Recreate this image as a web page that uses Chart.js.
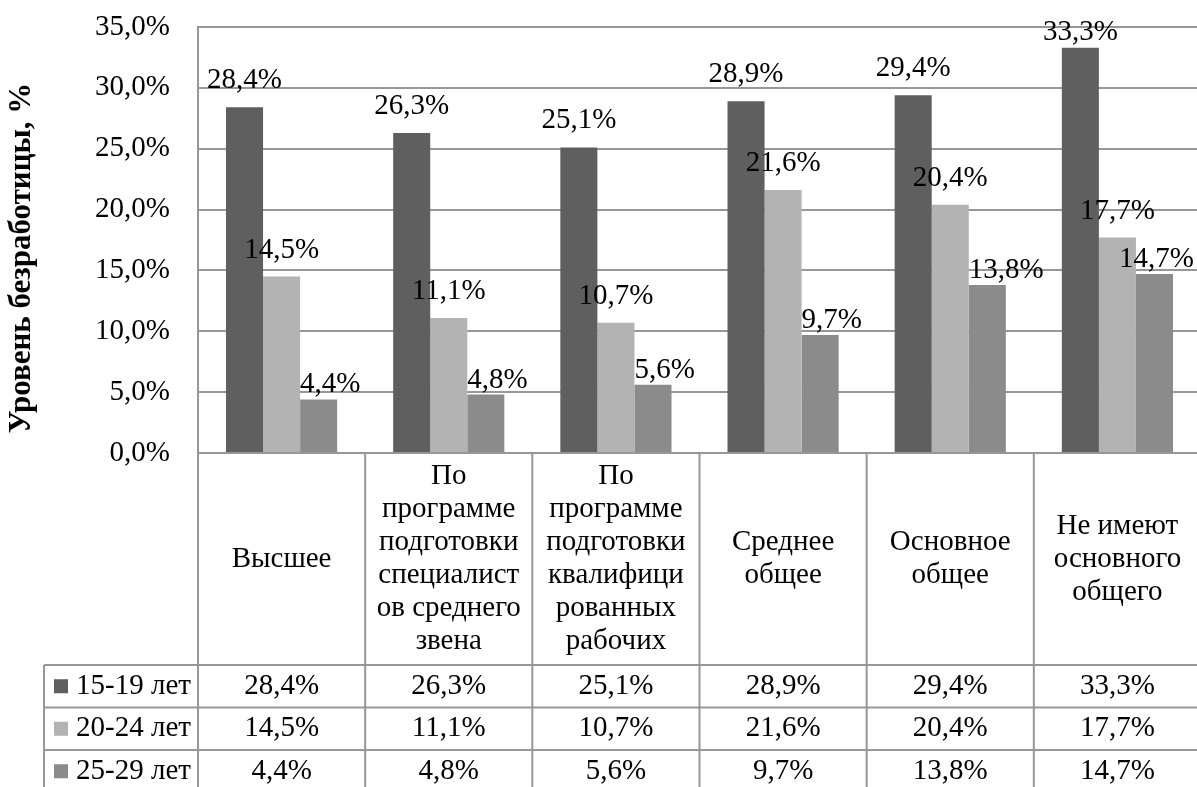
<!DOCTYPE html>
<html lang="ru">
<head>
<meta charset="utf-8">
<script src="https://cdn.jsdelivr.net/npm/chart.js@4"></script>
<style>
  html, body { margin: 0; padding: 0; background: #fff; overflow: hidden; }
  #wrap { width: 1201px; height: 787px; }
</style>
</head>
<body>
<div id="wrap"><canvas id="eduChart" width="1201" height="787"></canvas></div>
<script>
// Уровень безработицы молодёжи по уровню образования
const categories = [
  ["Высшее"],
  ["По", "программе", "подготовки", "специалист", "ов среднего", "звена"],
  ["По", "программе", "подготовки", "квалифици", "рованных", "рабочих"],
  ["Среднее", "общее"],
  ["Основное", "общее"],
  ["Не имеют", "основного", "общего"]
];
const ageGroups = ["15-19 лет", "20-24 лет", "25-29 лет"];
const age15to19 = [28.4, 26.3, 25.1, 28.9, 29.4, 33.3];
const age20to24 = [14.5, 11.1, 10.7, 21.6, 20.4, 17.7];
const age25to29 = [4.4, 4.8, 5.6, 9.7, 13.8, 14.7];
const yTicks = [0, 5, 10, 15, 20, 25, 30, 35];

const colors = ["#5f5f5f", "#b3b3b3", "#8b8b8b"];
const lineColor = "#979797";
const FONT = "'Liberation Serif', 'Times New Roman', serif";
const FS = 29;

const fmt = v => v.toFixed(1).replace(".", ",") + "%";

// подписи значений над столбцами
const valueLabels = {
  id: "valueLabels",
  afterDatasetsDraw(chart) {
    const ctx = chart.ctx;
    ctx.save();
    ctx.font = FS + "px " + FONT;
    ctx.fillStyle = "#000";
    ctx.textAlign = "left";
    ctx.textBaseline = "alphabetic";
    chart.data.datasets.forEach((ds, di) => {
      const meta = chart.getDatasetMeta(di);
      meta.data.forEach((bar, i) => {
        const txt = fmt(ds.data[i]);
        const w = ctx.measureText(txt).width;
        let x, gap;
        if (di === 2) { x = bar.x - bar.width / 2; gap = 7; }
        else { x = bar.x - w / 2; gap = 19; }
        x = Math.min(x, 1194 - w);
        const y = Math.max(bar.y - gap, 40);
        ctx.fillText(txt, x, y);
      });
    });
    ctx.restore();
  }
};

// таблица данных под осью и подпись оси Y
const dataTable = {
  id: "dataTable",
  afterDraw(chart) {
    const ctx = chart.ctx;
    const a = chart.chartArea;
    const n = categories.length;
    const cw = (a.right - a.left) / n;
    const bottom = chart.height;
    const tableTop = a.bottom + 212;
    const rowH = 42.5;
    const legendLeft = 44;

    ctx.save();
    ctx.strokeStyle = lineColor;
    ctx.lineWidth = 2;
    ctx.beginPath();
    ctx.moveTo(a.left, a.bottom);
    ctx.lineTo(a.right, a.bottom);
    for (let i = 0; i <= n; i++) {
      const x = a.left + i * cw;
      ctx.moveTo(x, a.bottom);
      ctx.lineTo(x, bottom);
    }
    for (let r = 0; r < 3; r++) {
      const y = tableTop + r * rowH;
      ctx.moveTo(legendLeft, y);
      ctx.lineTo(a.right, y);
    }
    ctx.moveTo(legendLeft, tableTop);
    ctx.lineTo(legendLeft, bottom);
    ctx.stroke();

    ctx.fillStyle = "#000";
    ctx.font = FS + "px " + FONT;
    ctx.textAlign = "center";
    ctx.textBaseline = "middle";

    // названия категорий
    const lh = 33;
    const mid = a.bottom + 106;
    categories.forEach((lines, i) => {
      const cx = a.left + (i + 0.5) * cw;
      const first = Math.max(a.bottom + 15, mid - (lines.length - 1) / 2 * lh);
      lines.forEach((t, k) => ctx.fillText(t, cx, first + k * lh));
    });

    // строки значений
    const series = [age15to19, age20to24, age25to29];
    series.forEach((vals, r) => {
      const cy = tableTop + r * rowH + rowH / 2;
      vals.forEach((v, i) => {
        ctx.fillText(fmt(v), a.left + (i + 0.5) * cw, cy);
      });
      ctx.fillStyle = colors[r];
      ctx.fillRect(54, cy - 7, 14, 14);
      ctx.fillStyle = "#000";
      ctx.textAlign = "left";
      ctx.fillText(ageGroups[r], 76, cy);
      ctx.textAlign = "center";
    });

    // подпись оси Y
    ctx.save();
    ctx.translate(22, 258);
    ctx.rotate(-Math.PI / 2);
    ctx.font = "bold 31px " + FONT;
    ctx.fillText("Уровень безработицы, %", 0, 0);
    ctx.restore();
    ctx.restore();
  }
};

new Chart(document.getElementById("eduChart"), {
  type: "bar",
  data: {
    labels: categories.map(c => c.join(" ")),
    datasets: [
      { label: ageGroups[0], data: age15to19, backgroundColor: colors[0] },
      { label: ageGroups[1], data: age20to24, backgroundColor: colors[1] },
      { label: ageGroups[2], data: age25to29, backgroundColor: colors[2] }
    ]
  },
  options: {
    responsive: false,
    animation: false,
    events: [],
    layout: { padding: { top: 27, bottom: 334, left: 0, right: 0 } },
    datasets: { bar: { categoryPercentage: 0.665, barPercentage: 1 } },
    plugins: { legend: { display: false }, tooltip: { enabled: false } },
    scales: {
      x: { display: false },
      y: {
        min: 0,
        max: 35,
        afterFit(scale) { scale.width = 198; },
        afterBuildTicks(scale) { scale.ticks = yTicks.map(v => ({ value: v })); },
        ticks: {
          padding: 0,
          color: "#000",
          font: { family: FONT, size: FS },
          callback: v => fmt(v)
        },
        // невидимые засечки дают отступ подписей от оси
        grid: { color: lineColor, lineWidth: 2, drawTicks: true, tickLength: 28, tickColor: "rgba(0,0,0,0)" },
        border: { color: lineColor, width: 2 }
      }
    }
  },
  plugins: [valueLabels, dataTable]
});
</script>
</body>
</html>
